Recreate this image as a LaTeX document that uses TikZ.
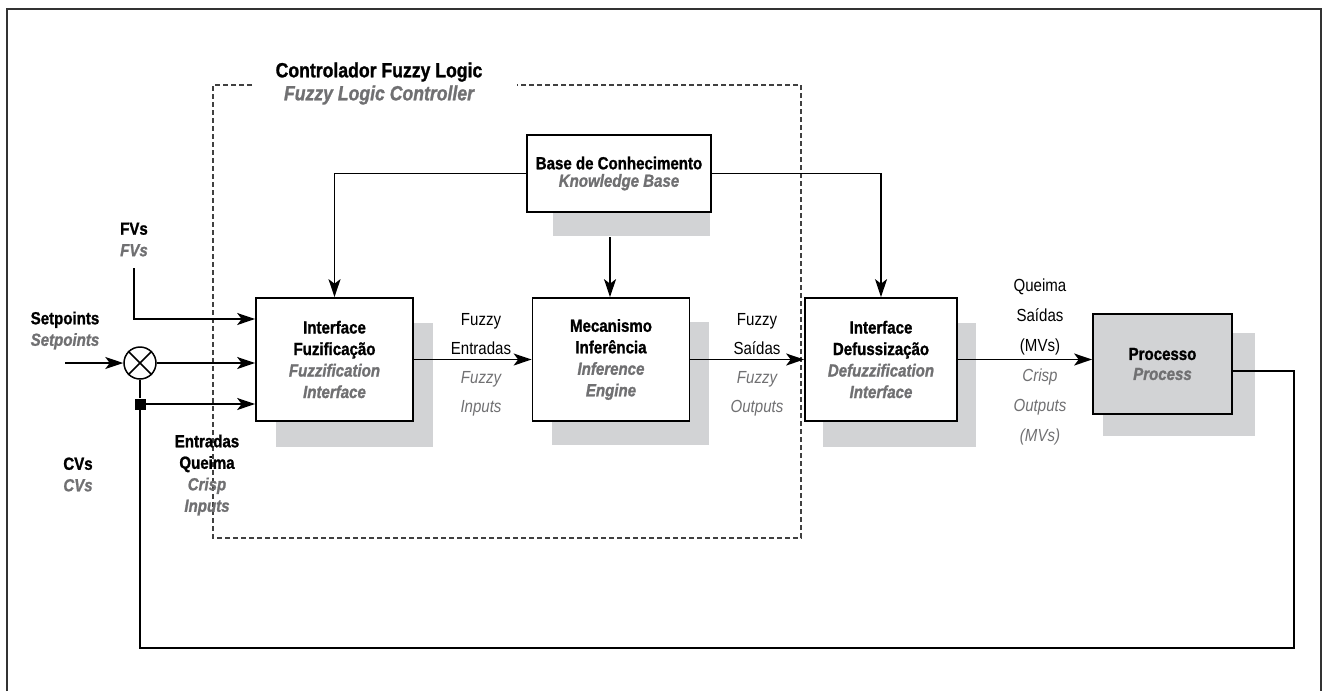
\documentclass[tikz,border=0pt]{standalone}
\usepackage{fontspec}
\setmainfont[FakeStretch=0.86, BoldFeatures={FakeBold=1.2}, BoldItalicFeatures={FakeBold=1.2}]{Liberation Sans}
\usetikzlibrary{arrows.meta}

\definecolor{shadowgray}{RGB}{210,211,213}
\definecolor{engl}{RGB}{112,112,114}

\newcommand{\enb}[1]{\textcolor{engl}{\bfseries\itshape #1}}
\newcommand{\enr}[1]{\textcolor{engl}{\mdseries\itshape #1}}

\begin{document}
\begin{tikzpicture}[x=1pt, y=-1pt,
	blk/.style={draw, line width=1.7pt, fill=white, minimum width=157pt, minimum height=123pt, inner sep=0pt, align=center, font=\fontsize{17.5}{21.5}\selectfont\bfseries},
	lbl/.style={align=center, inner sep=0pt, font=\fontsize{17.5}{21.5}\selectfont\bfseries},
	mlbl/.style={align=center, inner sep=0pt, font=\fontsize{17.5}{29}\selectfont},
	wire/.style={line width=1.6pt},
	arr/.style={wire, -{Stealth[length=18pt,width=12pt,inset=4.5pt]}},
	ctrlbox/.style={line width=1.2pt, black!75, dash pattern=on 5pt off 3pt}]

	\useasboundingbox (0,0) rectangle (1322,691);
	\draw[line width=1.5pt, black!80] (7,691) -- (7,9) -- (1321,9) -- (1321,691);

	\draw[ctrlbox] (252,85) -- (213,85) -- (213,538) -- (801,538) -- (801,85) -- (517,85);
	\node[lbl, font=\fontsize{20.5}{23}\selectfont\bfseries] (ttl) at (379,83.5) {Controlador Fuzzy Logic\\\enb{Fuzzy Logic Controller}};

	\fill[shadowgray] (276,323) rectangle (433,447);
	\fill[shadowgray] (552,322) rectangle (709,445);
	\fill[shadowgray] (823,323) rectangle (976,447);
	\fill[shadowgray] (553,200) rectangle (710,236);
	\fill[shadowgray] (1103,333) rectangle (1255,436);

	\node[blk] (fuz) at (334.5,359.5) {Interface\\Fuzificação\\\enb{Fuzzification}\\\enb{Interface}};
	\node[blk] (inf) at (611,359.5) {Mecanismo\\Inferência\\\enb{Inference}\\\enb{Engine}};
	\node[blk, minimum width=152pt] (def) at (881,359.5) {Interface\\Defussização\\\enb{Defuzzification}\\\enb{Interface}};
	\node[blk, minimum width=184pt, minimum height=77pt, font=\fontsize{17.5}{17.5}\selectfont\bfseries] (base) at (619,173.5) {Base de Conhecimento\\\enb{Knowledge Base}};
	\node[blk, fill=shadowgray, minimum width=139pt, minimum height=100pt, font=\fontsize{17.5}{20}\selectfont\bfseries] (proc) at (1162.5,364) {Processo\\\enb{Process}};

	\node[circle, draw, line width=1.5pt, minimum size=32pt, inner sep=0pt] (sum) at (140,363) {};
	\draw[wire] (sum.45) -- (sum.225) (sum.135) -- (sum.315);
	\node[fill=black, minimum size=11pt, inner sep=0pt] (tap) at (140,404) {};

	\coordinate (spin) at (65,363);
	\coordinate (fvin) at (134,268);
	\coordinate (kbtap) at (610,237);
	\coordinate (fbr) at (1294,648);

	\draw[arr] (spin) -- (sum.west);
	\draw[arr] (sum.east) -- (sum.east -| fuz.west);
	\draw[arr] (tap.east) -- (tap -| fuz.west);
	\draw[arr] (fvin) |- ([yshift=40.5pt]fuz.west);
	\draw[wire] (tap.north) -- (sum.south);
	\draw[arr] (base.west) -| (fuz.north);
	\draw[arr] (base.east) -| (def.north);
	\draw[arr] (kbtap) -- (kbtap |- inf.north);
	\draw[arr] (fuz.east) -- (inf.west);
	\draw[arr] (inf.east) -- (def.west);
	\draw[arr] (def.east) -- (def.east -| proc.west);
	\draw[wire] ([yshift=-7pt]proc.east) -| (fbr) -| (tap.south);

	\node[lbl] (stp) at (65,330.5) {Setpoints\\\enb{Setpoints}};
	\node[lbl] (fvs) at (134,239.5) {FVs\\\enb{FVs}};
	\node[lbl] (cvs) at (78,474.5) {CVs\\\enb{CVs}};
	\node[lbl] (cin) at (207,475) {Entradas\\Queima\\\enb{Crisp}\\\enb{Inputs}};
	\node[mlbl] (fin) at (481,365) {Fuzzy\\Entradas\\\enr{Fuzzy}\\\enr{Inputs}};
	\node[mlbl] (fout) at (757,365) {Fuzzy\\Saídas\\\enr{Fuzzy}\\\enr{Outputs}};
	\node[mlbl, font=\fontsize{17.5}{30}\selectfont] (cout) at (1040,362) {Queima\\Saídas\\(MVs)\\\enr{Crisp}\\\enr{Outputs}\\\enr{(MVs)}};

\end{tikzpicture}
\end{document}
